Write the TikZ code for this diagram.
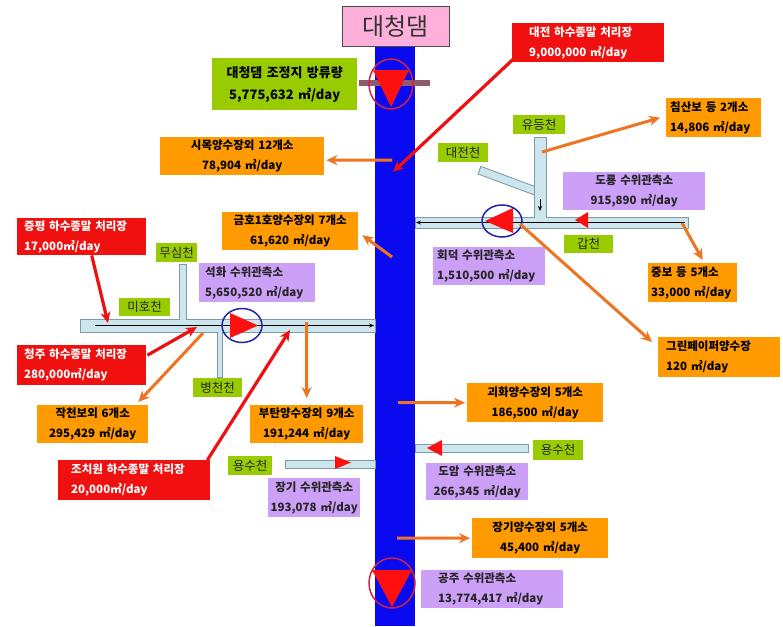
\documentclass[tikz,border=0pt]{standalone}
\usepackage{fontspec}
\setmainfont{Noto Sans CJK KR}
\usetikzlibrary{arrows.meta}
\definecolor{river}{HTML}{0A0AF0}
\definecolor{orbox}{HTML}{FF9A00}
\definecolor{redbox}{HTML}{F01010}
\definecolor{purbox}{HTML}{CDA0F8}
\definecolor{grnbox}{HTML}{99CC00}
\definecolor{pinkbox}{HTML}{FFB0DA}
\definecolor{orarrow}{HTML}{EE7422}
\definecolor{redarrow}{HTML}{EE1010}
\definecolor{pipefill}{HTML}{CDE6EE}
\definecolor{pipeborder}{HTML}{7D9AA5}
\definecolor{circblue}{HTML}{2222AA}
\definecolor{circred}{HTML}{CC2244}
\definecolor{tri}{HTML}{FF1010}
\definecolor{barcol}{HTML}{8E5A6E}
\tikzset{
 bx/.style={anchor=north west, inner ysep=0pt, font=\fontsize{11.5}{20}\selectfont\bfseries},
 ob/.style={bx, fill=orbox, text=black},
 rb/.style={bx, fill=redbox, text=white},
 pb/.style={bx, fill=purbox, text=black!85},
 gb/.style={bx, fill=grnbox, text=black},
 lb/.style={anchor=north west, fill=grnbox, inner sep=0pt, align=center, font=\fontsize{12.5}{14}\selectfont, text=black!85},
 ctr/.style={align=center, inner xsep=0pt},
 lft/.style={align=left, inner xsep=8pt},
 oarr/.style={draw=orarrow, line width=3pt, -{Stealth[length=11pt,width=10pt]}},
 rarr/.style={draw=redarrow, line width=3.2pt, -{Stealth[length=11pt,width=10pt]}},
 pipe/.style={fill=pipefill, draw=pipeborder, line width=1pt},
 flow/.style={draw=black, line width=0.8pt, -{Stealth[length=5pt,width=4pt]}},
 tribox/.style={fill=tri},
}
\begin{document}
\begin{tikzpicture}[x=1pt,y=-1pt]
\useasboundingbox[fill=white] (0,0) rectangle (783,626);

% river
\fill[river] (375,46) rectangle (415,626);

% title
\node[anchor=north west, fill=pinkbox, draw=black!70, line width=0.8pt, minimum width=107pt, minimum height=40pt, inner sep=0pt, font=\fontsize{24}{26}\selectfont, text=black!80] (title) at (342,6) {대청댐};

% pipes
\draw[pipeborder, line width=9pt] (479,170) -- (538,192);
\draw[pipefill, line width=7pt] (480,170.4) -- (538,192);
\draw[pipe] (534,137) rectangle (546,217);
\draw[pipe] (415,217) rectangle (688,228);
\fill[pipefill] (534.5,215) rectangle (545.5,218.5);
\draw[pipe] (179,264) rectangle (186,319);
\draw[pipe] (217,332) rectangle (222,377);
\draw[pipe] (80,319) rectangle (375,332);
\fill[pipefill] (179.5,317) rectangle (185.5,320);
\fill[pipefill] (217.5,331) rectangle (221.5,334);
\draw[pipe] (285,460) rectangle (375,468);
\draw[pipe] (415,444) rectangle (528,452);

% flow lines
\coordinate (mihoS) at (95,325.5);
\coordinate (mihoE) at (374,325.5);
\draw[flow] (mihoS) -- (mihoE);
\coordinate (gapS) at (685,222.5);
\coordinate (gapE) at (416,222.5);
\draw[flow] (gapS) -- (gapE);
\coordinate (ydS) at (540,199);
\coordinate (ydE) at (540,211);
\draw[flow] (ydS) -- (ydE);

% top dam marker
\draw[barcol, line width=6pt] (359,83) -- (430,83);
\fill[tribox] (373,70) -- (409,70) -- (391,107) -- cycle;
\draw[circred, line width=1.5pt] (391,84) ellipse [x radius=22pt, y radius=25pt];

% bottom dam marker
\fill[tribox] (372,570) -- (412,570) -- (392,607) -- cycle;
\draw[circred, line width=1.5pt] (392,583) ellipse [x radius=23pt, y radius=25pt];

% gauges on tributaries
\fill[tribox] (485,221) -- (513,208) -- (513,233) -- cycle;
\draw[circblue, line width=1.5pt] (502,221) ellipse [x radius=20pt, y radius=16pt];
\fill[tribox] (230,313) -- (230,338) -- (258,325.5) -- cycle;
\draw[circblue, line width=1.5pt] (242,325.5) ellipse [x radius=20pt, y radius=17pt];
\fill[tribox] (575,220) -- (588,212) -- (588,228) -- cycle;
\fill[tribox] (335,456) -- (335,469) -- (351,462.5) -- cycle;
\fill[tribox] (427,448) -- (442,440) -- (442,456) -- cycle;

% labels
\node[lb, minimum width=52pt, minimum height=19pt] (yudeung) at (513,115) {유등천};
\node[lb, minimum width=50pt, minimum height=19pt] (djc) at (438,143) {대전천};
\node[lb, minimum width=49pt, minimum height=18pt] (gapc) at (564,235) {갑천};
\node[lb, minimum width=41pt, minimum height=19pt] (musim) at (156,243) {무심천};
\node[lb, minimum width=51pt, minimum height=18pt] (miho) at (119,298) {미호천};
\node[lb, minimum width=49pt, minimum height=19pt] (byeong) at (193,378) {병천천};
\node[lb, minimum width=44pt, minimum height=19pt] (yongL) at (228,456) {용수천};
\node[lb, minimum width=50pt, minimum height=20pt] (yongR) at (533,440) {용수천};

% boxes
\node[gb, ctr, text width=145pt, minimum height=52pt, font=\fontsize{13}{22}\selectfont\bfseries] (jojeong) at (212,58) {대청댐 조정지 방류량\\5,775,632 ㎥/day};
\node[rb, lft, inner xsep=17pt, text width=118pt, minimum height=39pt] (djsew) at (512,23) {대전 하수종말 처리장\\9,000,000 ㎥/day};
\node[ob, ctr, text width=164pt, minimum height=38pt] (simok) at (160,137) {시목양수장외 12개소\\78,904 ㎥/day};
\node[ob, lft, inner xsep=4pt, text width=87pt, minimum height=39pt] (chimsan) at (666,98) {침산보 등 2개소\\14,806 ㎥/day};
\node[pb, ctr, text width=142pt, minimum height=38pt] (dor) at (563,172) {도룡 수위관측소\\915,890 ㎥/day};
\node[ob, ctr, text width=136pt, minimum height=38pt] (gumho) at (222,212) {금호1호양수장외 7개소\\61,620 ㎥/day};
\node[pb, lft, inner xsep=4pt, text width=104pt, minimum height=38pt] (hoedeok) at (433,247) {회덕 수위관측소\\1,510,500 ㎥/day};
\node[ob, lft, inner xsep=3pt, text width=83pt, minimum height=39pt] (jungbo) at (648,263) {중보 등 5개소\\33,000 ㎥/day};
\node[rb, lft, inner xsep=7pt, text width=115pt, minimum height=37pt] (jpsew) at (17,218) {증평 하수종말 처리장\\17,000㎥/day};
\node[pb, lft, inner xsep=6pt, text width=104pt, minimum height=39pt] (seokhwa) at (199,263) {석화 수위관측소\\5,650,520 ㎥/day};
\node[ob, lft, inner xsep=8pt, text width=106pt, minimum height=40pt] (green) at (658,337) {그린페이퍼양수장\\120 ㎥/day};
\node[rb, lft, inner xsep=7pt, text width=115pt, minimum height=40pt] (cjsew) at (17,345) {청주 하수종말 처리장\\280,000㎥/day};
\node[ob, ctr, text width=111pt, minimum height=38pt] (jakcheon) at (37,405) {작천보외 6개소\\295,429 ㎥/day};
\node[ob, ctr, text width=113pt, minimum height=38pt] (butan) at (250,405) {부탄양수장외 9개소\\191,244 ㎥/day};
\node[ob, ctr, text width=136pt, minimum height=39pt] (goehwa) at (467,383) {괴화양수장외 5개소\\186,500 ㎥/day};
\node[rb, lft, inner xsep=13pt, text width=126pt, minimum height=40pt] (jcwsew) at (58,460) {조치원 하수종말 처리장\\20,000㎥/day};
\node[pb, ctr, text width=92pt, minimum height=39pt] (janggi) at (268,478) {장기 수위관측소\\193,078 ㎥/day};
\node[pb, ctr, text width=102pt, minimum height=37pt] (doam) at (426,463) {도암 수위관측소\\266,345 ㎥/day};
\node[ob, ctr, text width=136pt, minimum height=40pt] (janggiP) at (472,518) {장기양수장외 5개소\\45,400 ㎥/day};
\node[pb, lft, inner xsep=17pt, text width=108pt, minimum height=38pt] (gongju) at (421,570) {공주 수위관측소\\13,774,417 ㎥/day};

% connector end points on rivers
\coordinate (rDj) at (393,172);
\coordinate (rSimok) at (392,160);
\coordinate (rGumho) at (392,257);
\coordinate (ydOut) at (542,152);
\coordinate (gapEnd) at (682,223);
\coordinate (hdOut) at (520,224);
\coordinate (mihoJp) at (108,323);
\coordinate (mihoCj) at (197,327);
\coordinate (mihoJak) at (203,333);
\coordinate (mihoBt) at (306.5,322);
\coordinate (mihoJcw) at (290,330);
\coordinate (rGoehwa) at (398,402.5);
\coordinate (rJanggi) at (397,538);

% arrows
\draw[rarr] ([xshift=2pt,yshift=4pt]djsew.south west) -- (rDj);
\draw[oarr] (rSimok) -- ([xshift=2pt,yshift=-4pt]simok.east);
\draw[oarr] (rGumho) -- ([xshift=4pt,yshift=-4pt]gumho.east);
\draw[oarr] (ydOut) -- ([xshift=-6pt]chimsan.west);
\draw[oarr] (gapEnd) -- ([xshift=10pt,yshift=3pt]jungbo.north);
\draw[oarr] (hdOut) -- ([xshift=-6pt,yshift=-5pt]green.north west);
\draw[rarr] ([xshift=10pt]jpsew.south) -- (mihoJp);
\draw[rarr] ([xshift=1pt,yshift=10pt]cjsew.east) -- (mihoCj);
\draw[oarr] (mihoJak) -- ([xshift=-10pt,yshift=3pt]jakcheon.north east);
\draw[oarr] (mihoBt) -- ([yshift=7pt]butan.north);
\draw[rarr] ([xshift=-3pt]jcwsew.north east) -- (mihoJcw);
\draw[oarr] (rGoehwa) -- ([xshift=-2pt]goehwa.west);
\draw[oarr] (rJanggi) -- ([xshift=-2pt]janggiP.west);
\end{tikzpicture}
\end{document}
